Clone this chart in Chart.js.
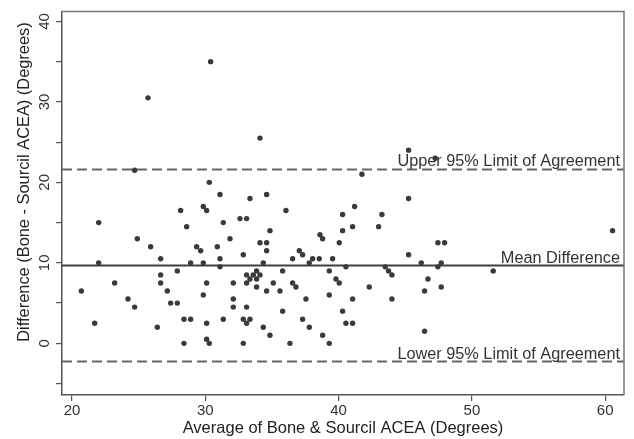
<!DOCTYPE html>
<html><head><meta charset="utf-8">
<script src="https://cdn.jsdelivr.net/npm/chart.js@4.4.1/dist/chart.umd.min.js"></script>
<style>html,body{margin:0;padding:0;background:#fff;}#wrap{width:634px;height:439px;}</style>
</head><body><div id="wrap"><canvas id="c" width="634" height="439"></canvas></div>
<script>
// Average of the two measurements (x) and their difference (y)
const avgX = [20.7,21.7,22.0,22.0,23.2,24.2,24.7,24.7,24.9,25.7,25.9,26.4,26.65,26.65,26.65,27.15,27.4,27.9,27.9,28.15,
  28.4,28.4,28.6,28.9,28.9,29.35,29.65,29.85,29.85,29.85,30.1,30.1,30.1,30.1,30.3,30.3,30.4,30.9,31.1,31.1,
  31.1,31.35,31.35,31.85,32.1,32.1,32.1,32.6,32.85,32.85,32.85,33.1,33.1,33.1,33.1,33.1,33.35,33.35,33.35,33.6,
  33.85,33.85,33.85,34.1,34.1,34.1,34.35,34.35,34.6,34.6,34.6,34.6,34.85,34.85,35.1,35.6,35.8,35.8,36.05,36.35,
  36.55,36.55,36.8,37.05,37.3,37.3,37.55,37.8,37.8,38.05,38.55,38.6,38.8,38.8,39.3,39.3,39.3,39.55,39.8,40.05,
  40.05,40.3,40.3,40.3,40.55,40.55,41.05,41.05,41.05,41.2,41.75,42.3,43.0,43.25,43.5,43.75,44.0,44.0,45.25,45.25,
  45.25,46.2,46.45,46.45,46.7,47.25,47.45,47.45,47.7,47.7,47.95,51.6,60.55];
const diffY = [6.5,2.5,15.0,10.0,7.5,5.5,4.5,21.5,13.0,30.5,12.0,2.0,10.5,8.5,7.5,6.5,5.0,9.0,5.0,16.5,
  3.0,0.0,14.5,10.0,3.0,12.0,11.5,17.0,10.0,6.0,16.5,7.5,2.5,0.5,0.0,20.0,35.0,12.0,18.5,10.5,
  9.5,15.0,3.0,13.0,7.5,5.5,4.5,15.5,11.0,3.0,0.0,15.5,8.5,7.5,4.5,2.5,18.0,8.0,3.0,8.5,
  9.0,8.0,7.0,25.5,12.5,8.5,10.0,2.0,18.5,12.5,11.5,6.5,14.0,1.0,7.5,6.5,9.0,4.0,16.5,0.0,
  10.5,7.5,7.0,11.5,11.0,3.0,5.5,10.0,2.0,10.5,10.5,13.5,13.0,1.0,9.0,6.0,0.0,10.5,8.0,12.5,
  7.5,16.0,14.0,4.0,9.5,2.5,14.5,5.5,2.5,17.0,21.0,7.0,14.5,16.0,9.5,9.0,8.5,5.5,18.0,11.0,
  24.0,10.0,6.5,1.5,8.0,23.0,12.5,9.5,10.0,7.0,12.5,9.0,14.0];

// Reference lines: upper limit, mean difference, lower limit
const refValues = [21.6, 9.67, -2.27];
const refLabels = ['Upper 95% Limit of Agreement', 'Mean Difference', 'Lower 95% Limit of Agreement'];
const refDashed = [true, false, true];

// Axes
const xRange = [19.25, 61.41];
const yRange = [-6.42, 41.23];
const xTicks = [20, 30, 40, 50, 60];
const xTickLabels = ['20', '30', '40', '50', '60'];
const yTicks = [-5, 0, 5, 10, 15, 20, 25, 30, 35, 40];
const yTickLabels = ['', '0', '', '10', '', '20', '', '30', '', '40'];
const xTitle = 'Average of Bone & Sourcil ACEA (Degrees)';
const yTitle = 'Difference (Bone - Sourcil ACEA) (Degrees)';

const FONT = '"Liberation Sans", Arial, Helvetica, sans-serif';

const datasets = [{
  type: 'scatter',
  data: avgX.map((x, i) => ({x: x, y: diffY[i]})),
  backgroundColor: '#3a3a3a',
  borderWidth: 0,
  pointRadius: 2.7,
  order: 0
}];
refValues.forEach((v, i) => {
  datasets.push({
    type: 'line',
    data: [{x: xRange[0], y: v}, {x: xRange[1], y: v}],
    borderColor: refDashed[i] ? '#666' : '#3f3f3f',
    borderWidth: 2,
    borderDash: refDashed[i] ? [10, 5] : [],
    pointRadius: 0,
    fill: false,
    order: 1
  });
});

const overlay = {
  id: 'overlay',
  afterDraw(chart) {
    const {ctx, chartArea, scales} = chart;
    const y = scales.y;
    ctx.save();
    // top/right frame
    ctx.strokeStyle = '#777';
    ctx.lineWidth = 1.5;
    ctx.beginPath();
    ctx.moveTo(chartArea.left, chartArea.top);
    ctx.lineTo(chartArea.right, chartArea.top);
    ctx.lineTo(chartArea.right, chartArea.bottom);
    ctx.stroke();
    // reference line labels
    ctx.font = '16.3px ' + FONT;
    ctx.fillStyle = '#333';
    ctx.textAlign = 'right';
    ctx.textBaseline = 'alphabetic';
    refValues.forEach((v, i) => {
      ctx.fillText(refLabels[i], chartArea.right - 4, y.getPixelForValue(v) - 3);
    });
    // y axis title
    ctx.font = '16.4px ' + FONT;
    ctx.translate(24, 182);
    ctx.rotate(-Math.PI / 2);
    ctx.textAlign = 'center';
    ctx.textBaseline = 'middle';
    ctx.fillStyle = '#222';
    ctx.fillText(yTitle, 0, 0);
    ctx.restore();
  }
};

new Chart(document.getElementById('c'), {
  data: {datasets: datasets},
  options: {
    responsive: false,
    animation: false,
    devicePixelRatio: 1,
    layout: {padding: {top: 9, right: 10, left: 0, bottom: 0}},
    plugins: {legend: {display: false}, tooltip: {enabled: false}},
    scales: {
      x: {
        type: 'linear',
        min: xRange[0], max: xRange[1],
        afterBuildTicks: s => { s.ticks = xTicks.map(v => ({value: v})); },
        afterFit: s => { s.height = 44; },
        ticks: {
          callback: v => xTickLabels[xTicks.indexOf(v)],
          font: {size: 15, family: FONT}, color: '#333', padding: 1,
          maxRotation: 0, minRotation: 0, autoSkip: false
        },
        grid: {display: true, drawOnChartArea: false, drawTicks: true, tickLength: 6, color: '#555', lineWidth: 1.2},
        border: {display: true, color: '#555', width: 1.5},
        title: {display: true, text: xTitle, font: {size: 16.5, family: FONT}, color: '#222', padding: {top: 0, bottom: 1}}
      },
      y: {
        type: 'linear',
        min: yRange[0], max: yRange[1],
        afterBuildTicks: s => { s.ticks = yTicks.map(v => ({value: v})); },
        afterFit: s => { s.width = 62; },
        ticks: {
          callback: v => yTickLabels[yTicks.indexOf(v)],
          font: {size: 15, family: FONT}, color: '#333', padding: 2.5,
          minRotation: 90, maxRotation: 90, crossAlign: 'center', autoSkip: false
        },
        grid: {display: true, drawOnChartArea: false, drawTicks: true, tickLength: 6, color: '#555', lineWidth: 1.2},
        border: {display: true, color: '#555', width: 1.5},
        title: {display: false}
      }
    }
  },
  plugins: [overlay]
});
</script>
</body></html>
